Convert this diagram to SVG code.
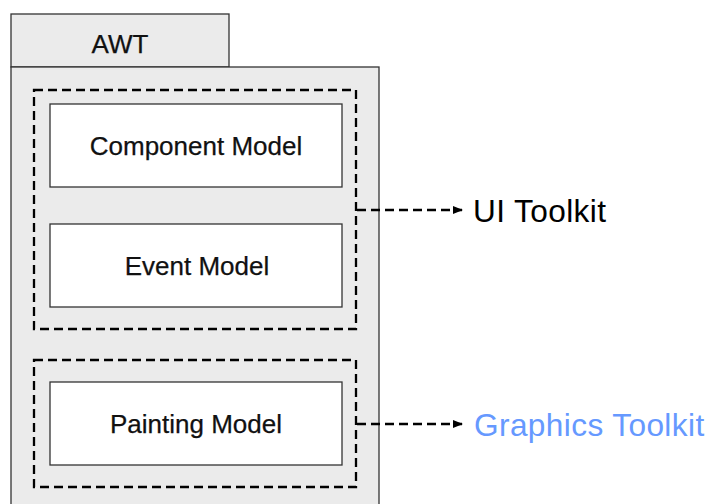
<svg xmlns="http://www.w3.org/2000/svg" width="707" height="504" viewBox="0 0 707 504">
  <defs>
    <style>
      .panel { fill: #ebebeb; stroke: #333333; stroke-width: 1.3; }
      .box { fill: #ffffff; stroke: #333333; stroke-width: 1.3; }
      .group { fill: none; stroke: #000000; stroke-width: 2.3; stroke-dasharray: 9 5; }
      .label { font-family: "Liberation Sans", Arial, sans-serif; font-size: 26px; fill: #111111; text-anchor: middle; stroke: #111111; stroke-width: 0.25; }
      .side { font-family: "Liberation Sans", Arial, sans-serif; font-size: 31.6px; letter-spacing: 0.4px; }
      .link { fill: none; stroke: #000000; stroke-width: 2.3; stroke-dasharray: 9 5; }
    </style>
    <marker id="arrow" markerWidth="10" markerHeight="8" refX="9" refY="4" orient="auto" markerUnits="userSpaceOnUse">
      <path d="M0,0 L10,4 L0,8 Z" fill="#000000"/>
    </marker>
  </defs>

  <rect width="707" height="504" fill="#ffffff"/>

  <!-- AWT package: tab and body -->
  <g id="awt">
    <rect class="panel" x="11" y="14" width="218" height="53"/>
    <rect class="panel" x="11" y="67" width="368" height="450"/>
    <text class="label" x="120" y="53" font-size="27">AWT</text>
  </g>

  <!-- UI toolkit grouping -->
  <g id="ui-group">
    <rect class="group" x="34" y="90" width="322" height="239"/>
  </g>
  <g id="component-model">
    <rect class="box" x="50" y="104" width="292" height="83"/>
    <text class="label" x="196" y="155">Component Model</text>
  </g>
  <g id="event-model">
    <rect class="box" x="50" y="224" width="292" height="83"/>
    <text class="label" x="197" y="275">Event Model</text>
  </g>

  <!-- Graphics toolkit grouping -->
  <g id="graphics-group">
    <rect class="group" x="34" y="360" width="322" height="127"/>
  </g>
  <g id="painting-model">
    <rect class="box" x="50" y="382" width="292" height="83"/>
    <text class="label" x="196" y="433">Painting Model</text>
  </g>

  <!-- Connectors -->
  <g id="connectors">
    <path class="link" d="M357,210 H462" marker-end="url(#arrow)"/>
    <path class="link" d="M357,424 H462" marker-end="url(#arrow)"/>
  </g>

  <g id="ui-toolkit">
    <text class="side" x="473" y="222" fill="#000000">UI Toolkit</text>
  </g>
  <g id="graphics-toolkit">
    <text class="side" x="474" y="436" fill="#6699ff">Graphics Toolkit</text>
  </g>
</svg>
